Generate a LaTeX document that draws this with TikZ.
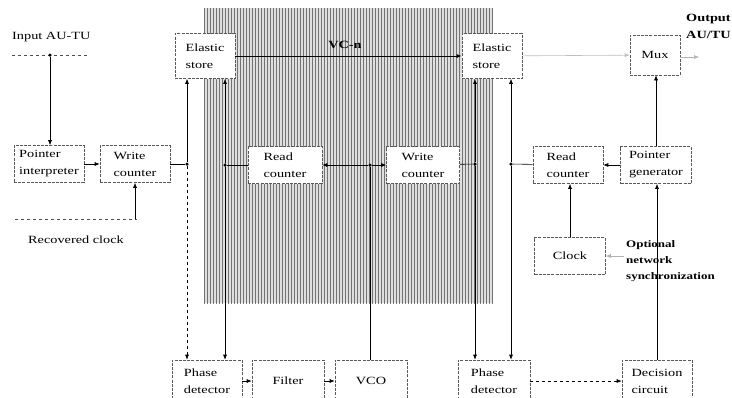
\documentclass[tikz,border=0pt]{standalone}
\usepackage{fontspec}
\setmainfont{Liberation Serif}[FakeStretch=1.3]
\usetikzlibrary{patterns,arrows.meta}
\begin{document}
\begin{tikzpicture}[x=1pt,y=-1pt,
  every node/.style={font=\fontsize{11}{17}\selectfont},
  box/.style={draw=black!65, line width=0.6pt, dash pattern=on 3pt off 1.2pt,
    fill=white, minimum width=#1, minimum height=37pt, inner sep=1pt, align=left},
  box/.default=70,
  txt/.style={inner sep=0pt, align=left},
  btxt/.style={inner sep=0pt, align=left, font=\fontsize{11}{17}\selectfont\bfseries},
  arr/.style={-{Latex[length=5pt,width=4pt]}, line width=0.6pt},
  ln/.style={line width=0.6pt},
  dotn/.style={circle, fill, inner sep=0pt, minimum size=3.5pt}]
\useasboundingbox (0,0) rectangle (732,397);
% shaded region
\fill[gray!25] (204,8) rectangle (493,303);
\fill[pattern=vertical lines, pattern color=black!55] (204,8) rectangle (493,303);
% boxes
\node[box=70] (pi) at (49,164) {Pointer\\interpreter};
\node[box=70] (wc1) at (135,164) {Write\\counter};
\node[box=60, minimum height=45pt] (es1) at (205,56) {Elastic\\store};
\node[box=60, minimum height=45pt] (es2) at (492,56) {Elastic\\store};
\node[box=74] (rc1) at (285,165) {Read\\counter};
\node[box=73] (wc2) at (423,165) {Write\\counter};
\node[box=70] (rc2) at (568,165) {Read\\counter};
\node[box=71] (pg) at (656,165) {Pointer\\generator};
\node[box=71] (clk) at (570,256) {Clock};
\node[box=50, minimum height=40pt] (mux) at (655,55) {Mux};
\node[box=70, minimum height=42pt] (pd1) at (207,381) {Phase\\detector};
\node[box=72, minimum height=42pt] (flt) at (288,381) {Filter};
\node[box=72, minimum height=42pt] (vco) at (371,381) {VCO};
\node[box=72, minimum height=42pt] (pd2) at (494,381) {Phase\\detector};
\node[box=70, minimum height=42pt] (dc) at (657,381) {Decision\\circuit};
% texts
\node[txt, anchor=west] (inp) at (12,37) {Input AU-TU};
\node[txt] (rct) at (76,240) {Recovered clock};
\node[btxt] (vcn) at (345,45) {VC-n};
\node[btxt, anchor=north west] (outt) at (686,14) {Output\\AU/TU};
\node[btxt, anchor=north west, font=\fontsize{10}{16}\selectfont\bfseries] (ons) at (626,240) {Optional\\network\\synchronization};
% input
\coordinate (inl) at (12,55);
\coordinate (inr) at (88,55);
\draw[ln, dashed, black!70] (inl) -- (inr);
\node[dotn] (ind) at (50,55) {};
\draw[arr] (ind) -- (ind |- pi.north);
\draw[arr] (pi) -- (wc1);
% recovered clock
\coordinate (rcl) at (15,219);
\coordinate (rcr) at (137,219);
\draw[ln, dashed, black!70] (rcl) -- (rcr);
\coordinate (rcu) at (135,219);
\draw[arr] (rcu) -- (rcu |- wc1.south);
% dots
\node[dotn] (d1) at (187,164) {};
\node[dotn] (d2) at (225,165) {};
\node[dotn] (d3) at (370,165) {};
\node[dotn] (d4) at (475,164) {};
\node[dotn] (d5) at (511,164) {};
\draw[ln] (wc1) -- (d1);
\draw[arr] (d1) -- (d1 |- es1.south);
\draw[arr, dashed] (d1) -- (d1 |- pd1.north);
\draw[ln] (rc1) -- (d2);
\draw[arr, line width=1pt] (d2) -- (d2 |- es1.south);
\draw[arr] (d2) -- (d2 |- pd1.north);
\draw[arr] (d3) -- (rc1);
\draw[arr] (d3) -- (wc2);
\draw[ln] (d3 |- vco.north) -- (d3);
\draw[ln] (wc2) -- (d4);
\draw[arr, line width=1pt] (d4) -- (d4 |- es2.south);
\draw[arr] (d4) -- (d4 |- pd2.north);
\draw[ln] (rc2) -- (d5);
\draw[arr] (d5) -- (d5 |- es2.south);
\draw[arr] (d5) -- (d5 |- pd2.north);
% VC-n
\draw[arr, line width=1pt] (es1) -- (es2);
% mux and output
\draw[arr, black!25] (es2) -- (mux);
\coordinate (outp) at (699,57);
\draw[arr, black!30] (mux.east |- outp) -- (outp);
\draw[arr] (pg.north) -- (pg.north |- mux.south);
\draw[arr] (pg) -- (rc2);
\draw[arr] (clk.north) -- (clk.north |- rc2.south);
\coordinate (onsa) at (624,256);
\draw[arr, black!30] (onsa) -- (clk.east |- onsa);
\draw[arr] (dc.north) -- (dc.north |- pg.south);
% bottom chain
\draw[arr] (pd1) -- (flt);
\draw[arr] (flt) -- (vco);
\draw[arr, dashed] (pd2) -- (dc);
\end{tikzpicture}
\end{document}
